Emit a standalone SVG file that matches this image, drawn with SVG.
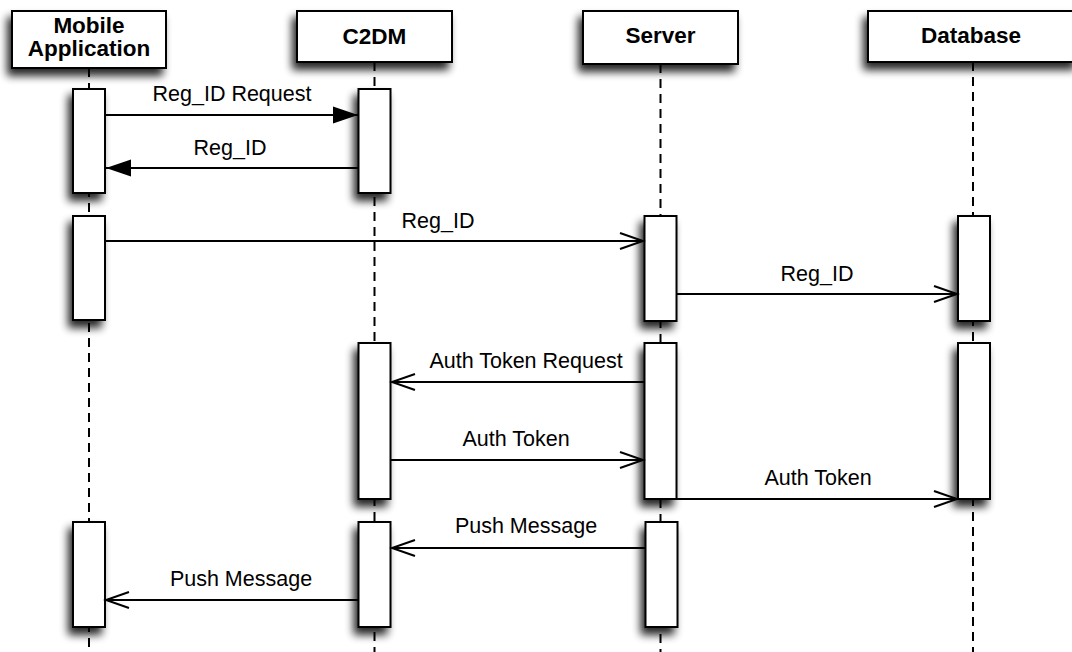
<svg xmlns="http://www.w3.org/2000/svg" width="1072" height="652" viewBox="0 0 1072 652">
<style>
.box{fill:#fff;stroke:#000;stroke-width:2}
.life{stroke:#000;stroke-width:2;stroke-dasharray:9,6;fill:none}
.msg{stroke:#000;stroke-width:2;fill:none}
.hd{font-family:"Liberation Sans",Arial,sans-serif;font-weight:bold;font-size:22.5px;text-anchor:middle;fill:#000}
.lb{font-family:"Liberation Sans",Arial,sans-serif;font-size:21.5px;text-anchor:middle;fill:#000}
</style>
<defs>
<filter id="sh" x="-50%" y="-20%" width="180%" height="160%">
<feGaussianBlur in="SourceAlpha" stdDeviation="4"/>
<feOffset dx="-4" dy="7" result="b"/>
<feComponentTransfer><feFuncA type="linear" slope="0.85"/></feComponentTransfer>
<feMerge><feMergeNode/><feMergeNode in="SourceGraphic"/></feMerge>
</filter>
<marker id="fa" markerWidth="27" markerHeight="20" refX="25" refY="9" orient="auto" markerUnits="userSpaceOnUse">
<path d="M0,0.5 L25,9 L0,17.5 Z" fill="#000"/>
</marker>
<marker id="oa" markerWidth="27" markerHeight="20" refX="24" refY="9" orient="auto" markerUnits="userSpaceOnUse">
<path d="M1,1 L24,9 L1,17" fill="none" stroke="#000" stroke-width="2"/>
</marker>
</defs>
<rect width="1072" height="652" fill="#fff"/>

<g id="lifelines">
<line class="life" x1="89" y1="68" x2="89" y2="652"/>
<line class="life" x1="374.5" y1="62" x2="374.5" y2="652"/>
<line class="life" x1="660.5" y1="64" x2="660.5" y2="652"/>
<line class="life" x1="973" y1="62" x2="973" y2="652"/>
</g>

<g id="mobile">
<rect class="box" x="12" y="11" width="154" height="57" filter="url(#sh)"/>
<text class="hd" x="89" y="33">Mobile</text>
<text class="hd" x="89" y="56">Application</text>
<rect class="box" x="73" y="89" width="32" height="104" filter="url(#sh)"/>
<rect class="box" x="73" y="216" width="32" height="104" filter="url(#sh)"/>
<rect class="box" x="73" y="522" width="32" height="105" filter="url(#sh)"/>
</g>

<g id="c2dm">
<rect class="box" x="297" y="11" width="155" height="51" filter="url(#sh)"/>
<text class="hd" x="374.5" y="44">C2DM</text>
<rect class="box" x="358.5" y="89" width="32" height="104" filter="url(#sh)"/>
<rect class="box" x="358.5" y="343" width="32" height="156" filter="url(#sh)"/>
<rect class="box" x="358.5" y="522" width="32" height="105" filter="url(#sh)"/>
</g>

<g id="server">
<rect class="box" x="583" y="11" width="155" height="53" filter="url(#sh)"/>
<text class="hd" x="660.5" y="43">Server</text>
<rect class="box" x="644.5" y="216" width="32" height="105" filter="url(#sh)"/>
<rect class="box" x="644.5" y="343" width="32" height="156" filter="url(#sh)"/>
<rect class="box" x="645.5" y="522" width="32" height="105" filter="url(#sh)"/>
</g>

<g id="database">
<rect class="box" x="868" y="11" width="210" height="51" filter="url(#sh)"/>
<text class="hd" x="971" y="43">Database</text>
<rect class="box" x="958" y="216" width="32" height="105" filter="url(#sh)"/>
<rect class="box" x="958" y="343" width="32" height="156" filter="url(#sh)"/>
</g>

<g id="connectors">
<line class="msg" x1="105" y1="115" x2="358" y2="115" marker-end="url(#fa)"/>
<text class="lb" x="232" y="101">Reg_ID Request</text>
<line class="msg" x1="358" y1="168" x2="106" y2="168" marker-end="url(#fa)"/>
<text class="lb" x="230" y="155">Reg_ID</text>
<line class="msg" x1="105" y1="241" x2="643" y2="241" marker-end="url(#oa)"/>
<text class="lb" x="438" y="228">Reg_ID</text>
<line class="msg" x1="677" y1="294" x2="957" y2="294" marker-end="url(#oa)"/>
<text class="lb" x="817" y="281">Reg_ID</text>
<line class="msg" x1="644" y1="382" x2="392" y2="382" marker-end="url(#oa)"/>
<text class="lb" x="526" y="368">Auth Token Request</text>
<line class="msg" x1="391" y1="460" x2="643" y2="460" marker-end="url(#oa)"/>
<text class="lb" x="516" y="446">Auth Token</text>
<line class="msg" x1="677" y1="499" x2="957" y2="499" marker-end="url(#oa)"/>
<text class="lb" x="818" y="485">Auth Token</text>
<line class="msg" x1="645" y1="548" x2="392" y2="548" marker-end="url(#oa)"/>
<text class="lb" x="526" y="533">Push Message</text>
<line class="msg" x1="358" y1="600" x2="106" y2="600" marker-end="url(#oa)"/>
<text class="lb" x="241" y="586">Push Message</text>
</g>
</svg>
